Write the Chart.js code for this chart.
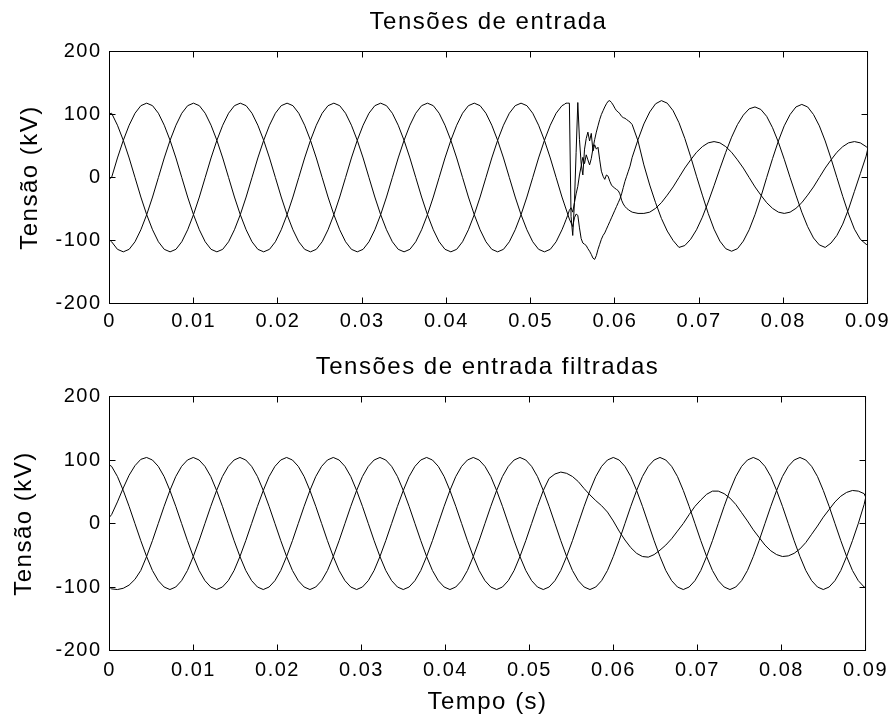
<!DOCTYPE html>
<html><head><meta charset="utf-8">
<script src="https://cdn.jsdelivr.net/npm/chart.js@4/dist/chart.umd.min.js"></script>
<style>
html,body{margin:0;padding:0;background:#fff;}
#wrap{position:relative;width:896px;height:718px;background:#fff;}
.box{position:absolute;left:0;width:896px;}
canvas{display:block;}
</style></head><body>
<div id="wrap">
<div class="box" style="top:0;height:345px"><canvas id="c1" width="896" height="345"></canvas></div>
<div class="box" style="top:345px;height:373px"><canvas id="c2" width="896" height="373"></canvas></div>
</div>
<script>
// ---------- DATA (time in s, voltages in kV) ----------
const titleTop = 'Tensões de entrada';
const titleBottom = 'Tensões de entrada filtradas';
const yLabel = 'Tensão (kV)';
const xLabel = 'Tempo (s)';

const timeTop = [0,
0.00025,0.000944,0.001639,0.002333,0.003028,0.003722,0.004417,0.005111,0.005806,0.0065,0.007194,0.007889,0.008583,0.009278,0.009972,0.010667,0.011361,0.012056,0.01275,0.013444,0.014139,0.014833,0.015528,0.016222,
0.016917,0.017611,0.018306,0.019,0.019694,0.020389,0.021083,0.021778,0.022472,0.023167,0.023861,0.024556,0.02525,0.025944,0.026639,0.027333,0.028028,0.028722,0.029417,0.030111,0.030806,0.0315,0.032194,0.032889,
0.033583,0.034278,0.034972,0.035667,0.036361,0.037056,0.03775,0.038444,0.039139,0.039833,0.040528,0.041222,0.041917,0.042611,0.043306,0.044,0.044694,0.045389,0.046083,0.046778,0.047472,0.048167,0.048861,0.049556,
0.05025,0.050944,0.051639,0.052333,0.053028,0.053722,
0.054,0.0542,0.0544,0.0546,0.0548,0.055,0.0552,0.0554,0.0556,0.0558,0.056,0.0562,0.0564,0.0566,0.0568,0.057,0.0572,0.0574,0.0576,0.0578,0.058,0.0582,0.0584,0.0586,0.0588,0.059,0.0592,0.0594,0.0596,0.0598,0.06,0.0602,0.0604,0.0606,0.0608,0.061,0.0612,0.0614,0.0616,0.0618,
0.062056,0.06275,0.063444,0.064139,0.064833,0.065528,0.066222,
0.066917,0.067611,0.068306,0.069,0.069694,0.070389,0.071083,0.071778,0.072472,0.073167,0.073861,0.074556,0.07525,0.075944,0.076639,0.077333,0.078028,0.078722,0.079417,0.080111,0.080806,0.0815,0.082194,0.082889,
0.083583,0.084278,0.084972,0.085667,0.086361,0.087056,0.08775,0.088444,0.089139,0.089833,
0.09];

const topA = [-2,
0,31,59,83,102,114,118,114,102,83,59,31,0,-31,-59,-83,-102,-114,-118,-114,-102,-83,-59,-31,
0,31,59,83,102,114,118,114,102,83,59,31,0,-31,-59,-83,-102,-114,-118,-114,-102,-83,-59,-31,
0,31,59,83,102,114,118,114,102,83,59,31,0,-31,-59,-83,-102,-114,-118,-114,-102,-83,-59,-31,
0,31,59,83,102,114,
116,118,118,118,-62,-92,-40,40,119,60,22,4,45,62,72,58,70,42,52,45,48,28,10,2,-3,4,2,-6,-12,-15,-17,-19,-21,-26,-36,-42,-46,-49,-51,-53,
-55,-57,-57,-55,-49,-40,-28,
-15,0,15,28,40,49,55,57,55,49,40,28,15,0,-15,-28,-40,-49,-55,-57,-55,-49,-40,-28,
-15,0,15,28,40,49,55,57,55,49,
47];

const topB = [101,
102,83,59,31,0,-31,-59,-83,-102,-114,-118,-114,-102,-83,-59,-31,0,31,59,83,102,114,118,114,
102,83,59,31,0,-31,-59,-83,-102,-114,-118,-114,-102,-83,-59,-31,0,31,59,83,102,114,118,114,
102,83,59,31,0,-31,-59,-83,-102,-114,-118,-114,-102,-83,-59,-31,0,31,59,83,102,114,118,114,
102,83,59,31,0,-31,
-42,-50,-58,-66,-72,-78,-64,-58,-60,-80,-97,-104,-106,-108,-113,-117,-122,-128,-130,-124,-114,-106,-98,-92,-88,-82,-76,-70,-64,-58,-52,-46,-40,-34,-26,-16,-6,2,10,18,
32,60,85,104,117,122,118,
106,87,62,33,2,-28,-57,-82,-101,-113,-117,-113,-101,-83,-59,-31,0,30,58,82,100,112,116,112,
100,82,58,30,0,-30,-58,-82,-98,-106,
-107];

const topC = [-99,
-102,-114,-118,-114,-102,-83,-59,-31,0,31,59,83,102,114,118,114,102,83,59,31,0,-31,-59,-83,
-102,-114,-118,-114,-102,-83,-59,-31,0,31,59,83,102,114,118,114,102,83,59,31,0,-31,-59,-83,
-102,-114,-118,-114,-102,-83,-59,-31,0,31,59,83,102,114,118,114,102,83,59,31,0,-31,-59,-83,
-102,-114,-118,-114,-102,-83,
-74,-67,-60,-52,-48,-55,-40,-26,-14,4,18,32,22,36,28,20,30,46,60,72,82,92,100,106,112,117,121,122,119,115,110,106,104,101,97,95,94,92,90,88,
84,58,20,-12,-40,-65,-85,
-100,-111,-108,-98,-83,-63,-39,-13,14,40,64,84,99,109,112,108,97,79,56,29,0,-28,-55,-78,
-96,-107,-111,-104,-92,-74,-50,-22,6,34,
44];

const timeBottom = [0,
0.00025,0.000944,0.001639,0.002333,0.003028,0.003722,0.004417,0.005111,0.005806,0.0065,0.007194,0.007889,0.008583,0.009278,0.009972,0.010667,0.011361,0.012056,0.01275,0.013444,0.014139,0.014833,0.015528,0.016222,
0.016917,0.017611,0.018306,0.019,0.019694,0.020389,0.021083,0.021778,0.022472,0.023167,0.023861,0.024556,0.02525,0.025944,0.026639,0.027333,0.028028,0.028722,0.029417,0.030111,0.030806,0.0315,0.032194,0.032889,
0.033583,0.034278,0.034972,0.035667,0.036361,0.037056,0.03775,0.038444,0.039139,0.039833,0.040528,0.041222,0.041917,0.042611,0.043306,0.044,0.044694,0.045389,0.046083,0.046778,0.047472,0.048167,0.048861,0.049556,
0.05025,0.050944,0.051639,0.052333,0.053028,0.053722,0.054417,0.055111,0.055806,0.0565,0.057194,0.057889,0.058583,0.059278,0.059972,0.060667,0.061361,0.062056,0.06275,0.063444,0.064139,0.064833,0.065528,0.066222,
0.066917,0.067611,0.068306,0.069,0.069694,0.070389,0.071083,0.071778,0.072472,0.073167,0.073861,0.074556,0.07525,0.075944,0.076639,0.077333,0.078028,0.078722,0.079417,0.080111,0.080806,0.0815,0.082194,0.082889,
0.083583,0.084278,0.084972,0.085667,0.086361,0.087056,0.08775,0.088444,0.089139,0.089833,
0.09];

const botA = [10,
14,34,56,76,91,101,104,100,90,74,52,27,0,-27,-52,-74,-90,-100,-104,-100,-90,-74,-52,-27,
0,27,52,74,90,100,104,100,90,74,52,27,0,-27,-52,-74,-90,-100,-104,-100,-90,-74,-52,-27,
0,27,52,74,90,100,104,100,90,74,52,27,0,-27,-52,-74,-90,-100,-104,-100,-90,-74,-52,-27,
0,27,52,71,78,81,79,74,66,55,45,36,28,18,4,-12,-26,-38,-47,-52,-53,-49,-42,-34,
-24,-12,0,14,27,37,46,51,51,47,40,30,17,4,-10,-22,-34,-43,-49,-52,-51,-47,-40,-30,
-17,-4,10,22,34,43,49,52,51,47,
42];

const botB = [92,
90,74,52,27,0,-27,-52,-74,-90,-100,-104,-100,-90,-74,-52,-27,0,27,52,74,90,100,104,100,
90,74,52,27,0,-27,-52,-74,-90,-100,-104,-100,-90,-74,-52,-27,0,27,52,74,90,100,104,100,
90,74,52,27,0,-27,-52,-74,-90,-100,-104,-100,-90,-74,-52,-27,0,27,52,74,90,100,104,100,
90,74,52,27,0,-27,-52,-74,-90,-100,-104,-100,-90,-74,-52,-27,0,27,52,74,90,100,104,100,
90,74,52,27,0,-27,-52,-74,-90,-100,-104,-100,-90,-74,-52,-27,0,27,52,74,90,100,104,100,
90,74,52,27,0,-27,-52,-74,-90,-100,
-101];

const botC = [-100,
-103,-104,-102,-97,-88,-74,-52,-27,0,27,52,74,90,100,104,100,90,74,52,27,0,-27,-52,-74,
-90,-100,-104,-100,-90,-74,-52,-27,0,27,52,74,90,100,104,100,90,74,52,27,0,-27,-52,-74,
-90,-100,-104,-100,-90,-74,-52,-27,0,27,52,74,90,100,104,100,90,74,52,27,0,-27,-52,-74,
-90,-100,-104,-100,-90,-74,-52,-27,0,27,52,74,90,100,104,100,90,74,52,27,0,-27,-52,-74,
-90,-100,-104,-100,-90,-74,-52,-27,0,27,52,74,90,100,104,100,90,74,52,27,0,-27,-52,-74,
-90,-100,-104,-100,-90,-74,-52,-27,0,30,
40];

// ---------- RENDERING ----------
const FONT = "'Liberation Sans', Arial, Helvetica, sans-serif";

const spacingPlugin = {
  id: 'spacing',
  beforeInit(chart){ chart.ctx.letterSpacing = '1.5px'; },
  beforeLayout(chart){ chart.ctx.letterSpacing = '1.5px'; },
  beforeDraw(chart){ chart.ctx.letterSpacing = '1.5px'; }
};

const framePlugin = {
  id: 'frame',
  afterDraw(chart){
    const {ctx, chartArea: a, scales: {x, y}} = chart;
    const L = 6;
    ctx.save();
    ctx.strokeStyle = '#000';
    ctx.lineWidth = 1;
    ctx.beginPath();
    x.ticks.forEach(t => {
      const p = Math.floor(x.getPixelForValue(t.value)) + 0.5;
      ctx.moveTo(p, a.bottom); ctx.lineTo(p, a.bottom - L);
      ctx.moveTo(p, a.top); ctx.lineTo(p, a.top + L);
    });
    y.ticks.forEach(t => {
      const p = Math.floor(y.getPixelForValue(t.value)) + 0.5;
      ctx.moveTo(a.left, p); ctx.lineTo(a.left + L, p);
      ctx.moveTo(a.right, p); ctx.lineTo(a.right - L, p);
    });
    ctx.stroke();
    ctx.strokeRect(a.left, a.top, a.right - a.left, a.bottom - a.top);
    ctx.restore();
  }
};

function fmt(v){ return String(Math.round(v * 100) / 100); }

function makeChart(id, times, series, o){
  const datasets = series.map(vals => ({
    data: times.map((t, i) => ({x: t, y: vals[i]})),
    borderColor: '#000', borderWidth: 1, pointRadius: 0, fill: false, tension: 0
  }));
  const labelFont = {family: FONT, size: 24, weight: 'normal', lineHeight: 1.2};
  const tickFont = {family: FONT, size: 20, weight: 'normal', lineHeight: 1.2};
  return new Chart(document.getElementById(id), {
    type: 'line',
    data: {datasets},
    options: {
      responsive: false, animation: false, events: [],
      layout: {padding: {left: 0, right: 26.5, top: 0, bottom: 0}},
      plugins: {
        legend: {display: false}, tooltip: {enabled: false},
        title: {display: true, text: o.title, fullSize: false, color: '#000', font: labelFont,
                padding: {top: 8.1, bottom: 14.6}}
      },
      scales: {
        x: {
          type: 'linear', min: 0, max: 0.09,
          grid: {display: false, drawTicks: false}, border: {display: false},
          ticks: {stepSize: 0.01, color: '#000', font: tickFont, padding: o.xPad,
                  maxRotation: 0, autoSkip: false, callback: v => fmt(v)},
          title: {display: !!o.xTitle, text: o.xTitle || '', color: '#000', font: labelFont,
                  padding: {top: 0, bottom: 1}},
          afterFit: s => { s.height = o.xH; }
        },
        y: {
          min: -200, max: 200,
          grid: {display: false, drawTicks: false}, border: {display: false},
          ticks: {stepSize: 100, color: '#000', font: tickFont, padding: 8},
          title: {display: true, text: yLabel, color: '#000', font: labelFont,
                  padding: {top: o.yPad, bottom: 0}},
          afterFit: s => { s.width = 109.5; }
        }
      }
    },
    plugins: [spacingPlugin, framePlugin]
  });
}

makeChart('c1', timeTop, [topA, topB, topC],
  {title: titleTop, xPad: 6, xH: 41.5, yPad: 15.6});
makeChart('c2', timeBottom, [botA, botB, botC],
  {title: titleBottom, xTitle: xLabel, xPad: 8, xH: 67.5, yPad: 9.6});
</script>
</body></html>
